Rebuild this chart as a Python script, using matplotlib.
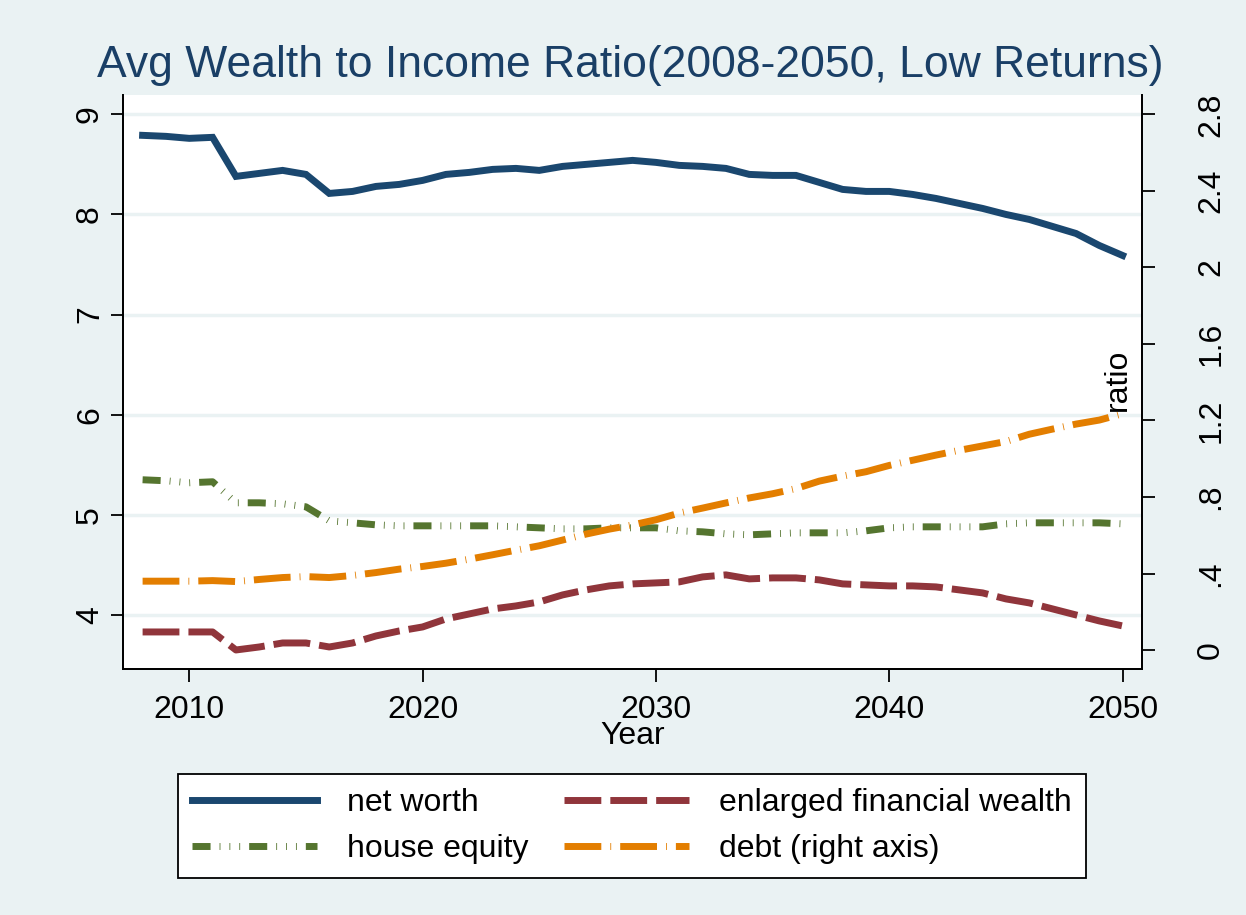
import matplotlib.pyplot as plt
import numpy as np

plt.rcParams['font.family'] = ['Liberation Sans', 'DejaVu Sans']

years = list(range(2008, 2051))

net_worth = [8.79, 8.78, 8.76, 8.77, 8.38, 8.41, 8.44, 8.40, 8.21, 8.23,
             8.28, 8.30, 8.34, 8.40, 8.42, 8.45, 8.46, 8.44, 8.48, 8.50,
             8.52, 8.54, 8.52, 8.49, 8.48, 8.46, 8.40, 8.39, 8.39, 8.32,
             8.25, 8.23, 8.23, 8.20, 8.16, 8.11, 8.06, 8.00, 7.95, 7.88,
             7.81, 7.69, 7.59]

house_equity = [5.35, 5.34, 5.32, 5.33, 5.12, 5.12, 5.11, 5.08, 4.94, 4.92,
                4.90, 4.89, 4.89, 4.89, 4.89, 4.89, 4.88, 4.87, 4.86, 4.86,
                4.87, 4.87, 4.87, 4.84, 4.83, 4.81, 4.80, 4.81, 4.82, 4.82,
                4.82, 4.84, 4.87, 4.88, 4.88, 4.88, 4.88, 4.91, 4.92, 4.92,
                4.92, 4.92, 4.91]

fin_wealth = [3.83, 3.83, 3.83, 3.83, 3.65, 3.68, 3.72, 3.72, 3.68, 3.72,
              3.79, 3.84, 3.88, 3.96, 4.01, 4.06, 4.09, 4.13, 4.20, 4.25,
              4.29, 4.31, 4.32, 4.33, 4.38, 4.40, 4.36, 4.37, 4.37, 4.35,
              4.31, 4.30, 4.29, 4.29, 4.28, 4.25, 4.22, 4.16, 4.12, 4.06,
              4.00, 3.94, 3.89]

debt = [0.36, 0.36, 0.36, 0.363, 0.358, 0.369, 0.379, 0.384, 0.379, 0.39,
        0.405, 0.423, 0.437, 0.454, 0.475, 0.498, 0.522, 0.545, 0.575, 0.606,
        0.632, 0.654, 0.681, 0.716, 0.742, 0.769, 0.795, 0.817, 0.844, 0.883,
        0.909, 0.932, 0.965, 0.992, 1.019, 1.044, 1.067, 1.090, 1.128, 1.155,
        1.181, 1.202, 1.235]

left_ticks = [4, 5, 6, 7, 8, 9]
right_ticks = [0, 0.4, 0.8, 1.2, 1.6, 2.0, 2.4, 2.8]
right_labels = ['0', '.4', '.8', '1.2', '1.6', '2', '2.4', '2.8']
x_ticks = [2010, 2020, 2030, 2040, 2050]

bg = '#EAF2F3'
c_net = '#1A476F'
c_fin = '#90353B'
c_house = '#55752F'
c_debt = '#E37E00'
fs = 23

fig = plt.figure(figsize=(12.46, 9.15), dpi=100, facecolor=bg)
ax = fig.add_axes([123/1246, 1-669/915, (1142-123)/1246, (669-95)/915])
ax2 = ax.twinx()

lw = 5
ax.plot(years, net_worth, color=c_net, lw=lw, solid_joinstyle='miter',
        label='net worth')
ax.plot(years, fin_wealth, color=c_fin, lw=lw, dashes=(5.3, 1.3),
        dash_capstyle='butt', label='enlarged financial wealth')
ax.plot(years, house_equity, color=c_house, lw=lw,
        dashes=(2.6, 1.3, 0.12, 1.3, 0.12, 1.3, 0.12, 1.3),
        dash_capstyle='butt', label='house equity')
ax2.plot(years, debt, color=c_debt, lw=lw, dashes=(5.3, 1.3, 0.12, 1.3),
         dash_capstyle='butt', label='debt (right axis)')

ax.set_xlim(2007.16, 2050.83)
ax.set_ylim(3.46, 9.193)
ax2.set_ylim(-0.099, 2.901)

ax.set_xticks(x_ticks)
ax.set_yticks(left_ticks)
ax2.set_yticks(right_ticks)
ax2.set_yticklabels(right_labels)

ax.grid(axis='y', color=bg, lw=2.5)
ax.set_axisbelow(True)
for a in (ax, ax2):
    for s in a.spines.values():
        s.set_linewidth(1.3)
    a.spines['top'].set_visible(False)
ax.tick_params(axis='x', labelsize=fs, length=9, width=1.3, pad=10)
ax.tick_params(axis='y', labelsize=fs, length=9, width=1.3, pad=4,
               labelrotation=90)
ax2.tick_params(axis='y', labelsize=fs, length=9, width=1.3, pad=30,
                labelrotation=90)
for t in ax.get_yticklabels() + ax2.get_yticklabels():
    t.set_va('center')

ax.set_xlabel('Year', fontsize=fs, labelpad=-3)
fig.text(1118/1246, 1-380/915, 'ratio', rotation=90, fontsize=fs,
         ha='center', va='center')

fig.text(630/1246, 1-65/915, 'Avg Wealth to Income Ratio(2008-2050, Low Returns)',
         fontsize=32, color='#1A3F66', ha='center', va='center')

h1, l1 = ax.get_legend_handles_labels()
h2, l2 = ax2.get_legend_handles_labels()
handles = [h1[0], h1[2], h1[1], h2[0]]
labels = [l1[0], l1[2], l1[1], l2[0]]
leg = fig.legend(handles, labels, loc='center', ncol=2, fontsize=fs,
                 bbox_to_anchor=(632/1246, 1-826/915), frameon=True,
                 fancybox=False, edgecolor='black', facecolor='white',
                 framealpha=1, handlelength=3.9, handletextpad=0.95,
                 columnspacing=1.1, borderpad=0.45, labelspacing=0.5)
leg.get_frame().set_linewidth(1.3)

fig.savefig('out.png', dpi=100, facecolor=bg)
